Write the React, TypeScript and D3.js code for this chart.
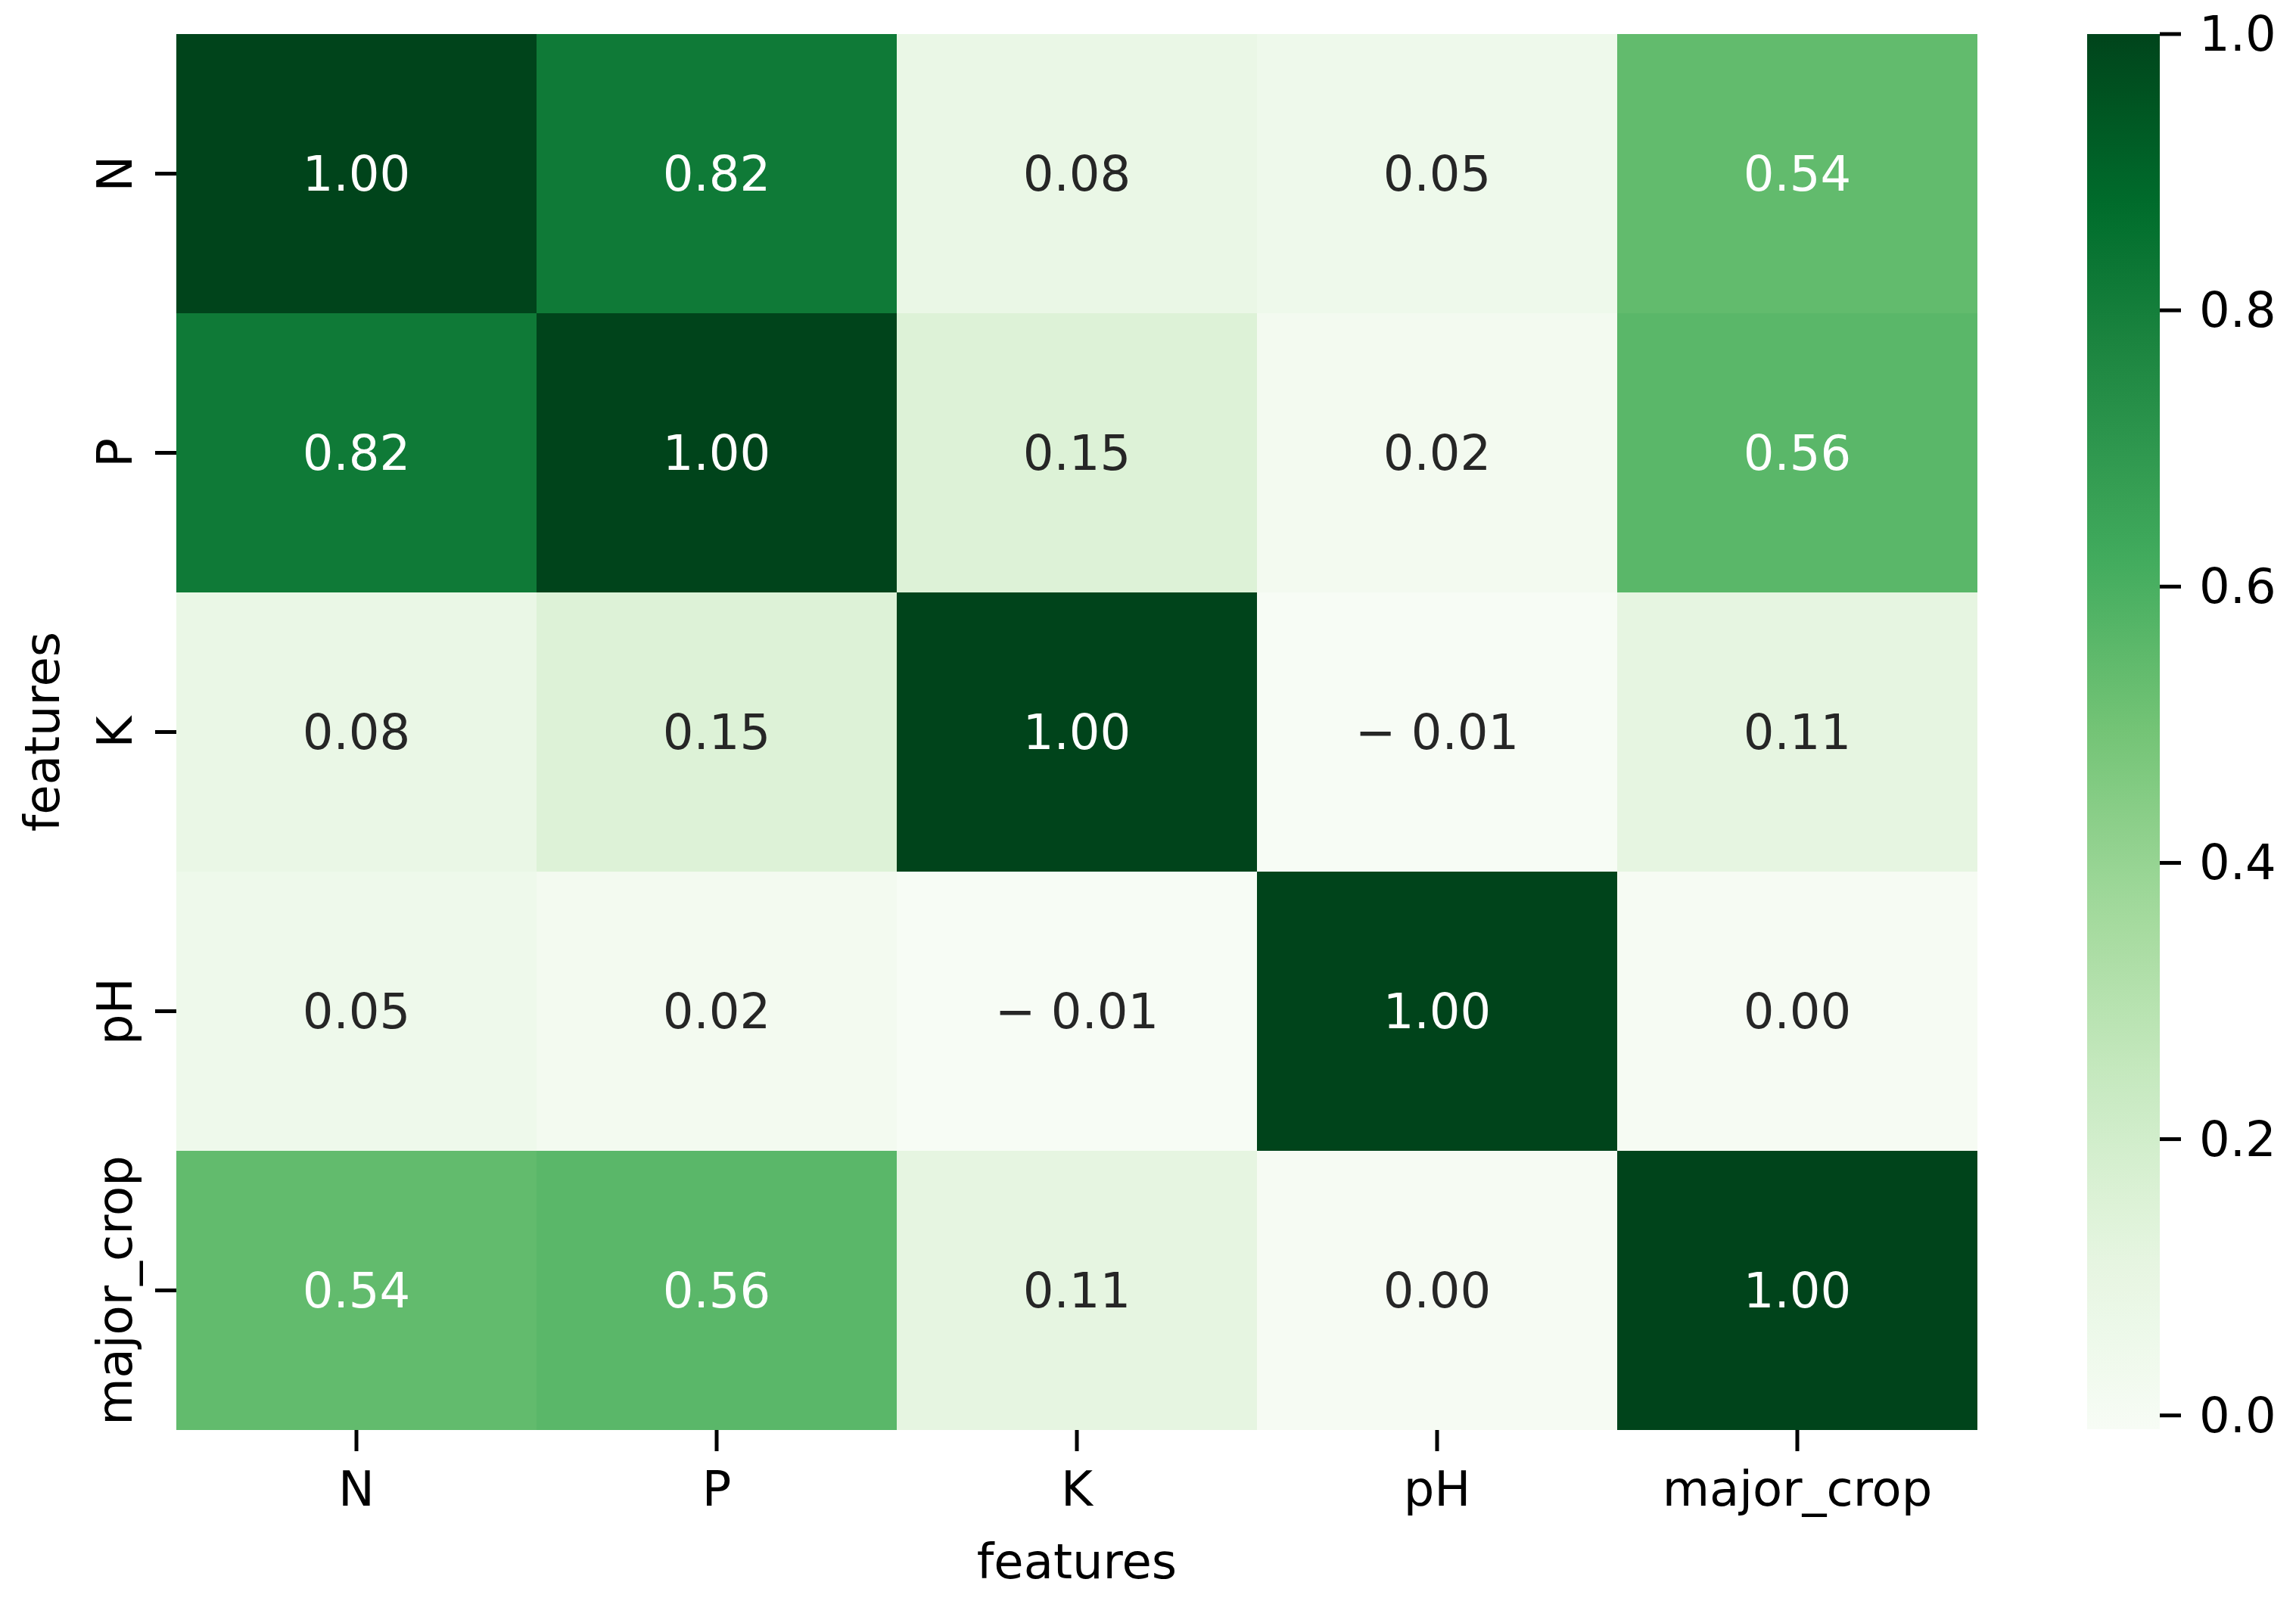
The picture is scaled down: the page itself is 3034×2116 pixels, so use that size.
import * as d3 from 'd3'
import React from 'react'

const features = ['N', 'P', 'K', 'pH', 'major_crop']
const rowN = [1.0, 0.82, 0.08, 0.05, 0.54]
const rowP = [0.82, 1.0, 0.15, 0.02, 0.56]
const rowK = [0.08, 0.15, 1.0, -0.01, 0.11]
const rowPH = [0.05, 0.02, -0.01, 1.0, 0.0]
const rowCrop = [0.54, 0.56, 0.11, 0.0, 1.0]
const matrix = [rowN, rowP, rowK, rowPH, rowCrop]
const colorTicks = [0.0, 0.2, 0.4, 0.6, 0.8, 1.0]
const axisTitle = 'features'

const W = 3034
const H = 2116
const font = '"DejaVu Sans", sans-serif'
const fs = 64
const tickLen = 28
const tickW = 5

// matplotlib's Greens is a linear blend of the 9 ColorBrewer colours
const greens = d3.piecewise(d3.interpolateRgb, d3.schemeGreens[9] as string[])
const vmin = -0.01
const vmax = 1.0
const color = (v: number) => greens((v - vmin) / (vmax - vmin))

// seaborn picks white or .15 gray text from the cell luminance
const lum = (c: string) => {
    const rgb = d3.rgb(c)
    const ch = [rgb.r, rgb.g, rgb.b].map(v => {
        const s = v / 255
        return s <= 0.03928 ? s / 12.92 : Math.pow((s + 0.055) / 1.055, 2.4)
    })
    return 0.2126 * ch[0] + 0.7152 * ch[1] + 0.0722 * ch[2]
}
const fmt = (v: number) => {
    const s = Math.abs(v).toFixed(2)
    return v < 0 ? '\u2212 ' + s : s
}

export default function App() {
    const x = d3.scaleBand().domain(features).range([233, 2613])
    const y = d3.scaleBand().domain(features).range([45, 1890])
    const cb = d3.scaleLinear().domain([vmin, vmax]).range([1889, 45])
    const cbLeft = 2758
    const cbRight = 2854
    const stops = d3.range(0, 1.0001, 0.02)

    return (
        <svg width={W} height={H} viewBox={`0 0 ${W} ${H}`}
            style={{ position: 'absolute', left: 0, top: 0, background: '#fff' }}
            fontFamily={font}>
            <defs>
                <linearGradient id="cbgrad" x1="0" y1="1" x2="0" y2="0">
                    {stops.map((t, i) => (
                        <stop key={i} offset={t} stopColor={greens(t)} />
                    ))}
                </linearGradient>
            </defs>
            <rect width={W} height={H} fill="#fff" />
            {/* cells */}
            <g shapeRendering="crispEdges">
                {matrix.map((row, i) => row.map((v, j) => (
                    <rect key={`${i}-${j}`} x={x(features[j])} y={y(features[i])}
                        width={x.bandwidth()} height={y.bandwidth()} fill={color(v)} />
                )))}
            </g>
            {matrix.map((row, i) => row.map((v, j) => {
                const c = color(v)
                return (
                    <text key={`t${i}-${j}`}
                        x={(x(features[j]) as number) + x.bandwidth() / 2}
                        y={(y(features[i]) as number) + y.bandwidth() / 2}
                        textAnchor="middle" dominantBaseline="central" fontSize={fs}
                        fill={lum(c) > 0.408 ? '#262626' : '#ffffff'}>
                        {fmt(v)}
                    </text>
                )
            }))}
            {/* x axis */}
            {features.map(f => {
                const cx = (x(f) as number) + x.bandwidth() / 2
                return (
                    <g key={`x${f}`}>
                        <line x1={cx} x2={cx} y1={1890} y2={1890 + tickLen} stroke="#000" strokeWidth={tickW} />
                        <text x={cx} y={1990} textAnchor="middle" fontSize={fs} fill="#000">{f}</text>
                    </g>
                )
            })}
            <text x={1423} y={2086} textAnchor="middle" fontSize={fs} fill="#000">{axisTitle}</text>
            {/* y axis */}
            {features.map(f => {
                const cy = (y(f) as number) + y.bandwidth() / 2
                return (
                    <g key={`y${f}`}>
                        <line x1={233 - tickLen} x2={233} y1={cy} y2={cy} stroke="#000" strokeWidth={tickW} />
                        <text transform={`translate(174 ${cy}) rotate(-90)`} textAnchor="middle"
                            fontSize={fs} fill="#000">{f}</text>
                    </g>
                )
            })}
            <text transform={`translate(78 967) rotate(-90)`} textAnchor="middle"
                fontSize={fs} fill="#000">{axisTitle}</text>
            {/* colorbar */}
            <rect x={cbLeft} y={45} width={cbRight - cbLeft} height={1889 - 45} fill="url(#cbgrad)" />
            {colorTicks.map(t => (
                <g key={`c${t}`}>
                    <line x1={cbRight} x2={cbRight + tickLen} y1={cb(t)} y2={cb(t)} stroke="#000" strokeWidth={tickW} />
                    <text x={2906} y={cb(t)} dominantBaseline="central" fontSize={fs} fill="#000">{d3.format('.1f')(t)}</text>
                </g>
            ))}
        </svg>
    )
}
